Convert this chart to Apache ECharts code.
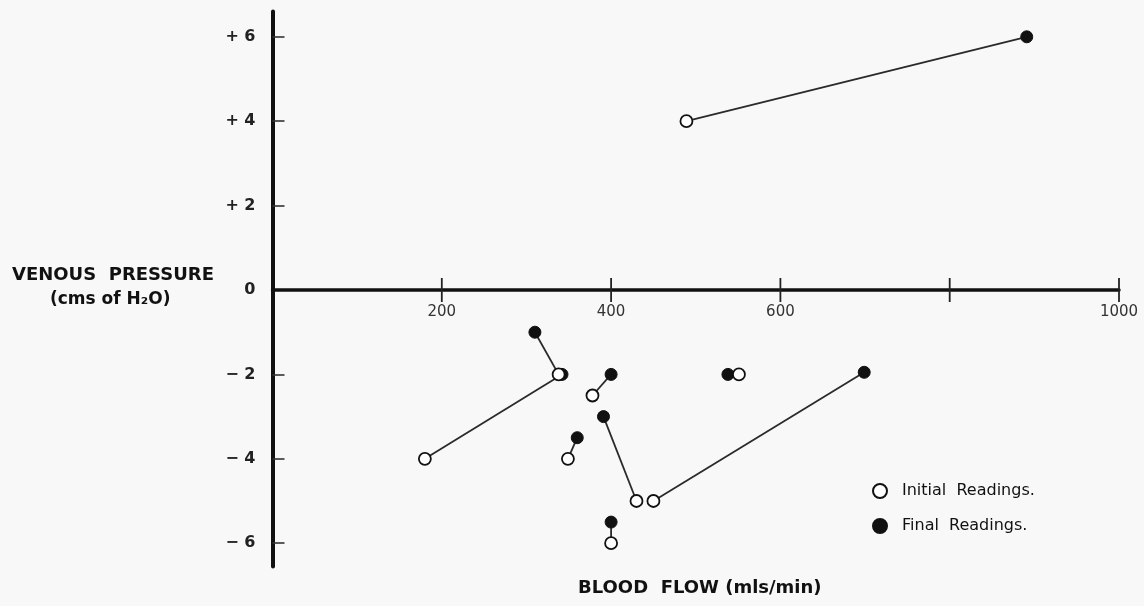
<!DOCTYPE html>
<html>
<head>
<meta charset="utf-8">
<script src="https://cdn.jsdelivr.net/npm/echarts@6/dist/echarts.min.js"></script>
<style>
  html, body { margin: 0; padding: 0; background: #f8f8f8; }
  #chart { width: 1144px; height: 606px; }
</style>
</head>
<body>
<div id="chart"></div>
<script>
  // readings per subject, paired by index (initial -> final)
  var initialFlow = [489, 180, 338, 378, 349, 430, 450, 400, 551];
  var initialPressure = [4, -4, -2, -2.5, -4, -5, -5, -6, -2];
  var finalFlow = [891, 342, 310, 400, 360, 391, 699, 400, 538];
  var finalPressure = [6, -2, -1, -2, -3.5, -3, -1.95, -5.5, -2];

  var flowTicks = [200, 400, 600, 800, 1000];
  var flowLabels = [200, 400, 600, 1000]; // 800 is blanked out on the original
  var pressureTicks = [-6, -4, -2, 2, 4, 6];
  var pressureLabels = [-6, -4, -2, 0, 2, 4, 6];

  var font = 'DejaVu Sans';
  var chart = echarts.init(document.getElementById('chart'));

  var gridTop = 11.5, gridBottom = 39.6, yMin = -6.55, yMax = 6.6;
  var plotH = 606 - gridTop - gridBottom;
  // lift the whole flow axis (line + labels) up to pressure 0
  var zeroOffset = -plotH * (0 - yMin) / (yMax - yMin);

  var initialPts = initialFlow.map(function (x, i) { return [x, initialPressure[i]]; });
  var finalPts = finalFlow.map(function (x, i) { return [x, finalPressure[i]]; });

  // one short line per subject joining its two readings
  var pairLines = initialPts.map(function (p, i) {
    return {
      type: 'line',
      data: [p, finalPts[i]],
      showSymbol: false,
      symbol: 'none',
      silent: true,
      z: 1,
      lineStyle: { color: '#2a2a2a', width: 1.8 }
    };
  });

  // flow ticks cross the axis line on both sides, so draw them as thin bars at y = 0
  var crossTicks = {
    type: 'scatter',
    data: flowTicks.map(function (v) { return [v, 0]; }),
    symbol: 'rect', symbolSize: [1.8, 24],
    silent: true, z: 2,
    itemStyle: { color: '#222', opacity: 1 }
  };

  chart.setOption({
    backgroundColor: '#f8f8f8',
    animation: false,
    grid: { left: 272.5, right: 25, top: gridTop, bottom: gridBottom },
    xAxis: {
      type: 'value', min: 0, max: 1000,
      position: 'bottom', offset: zeroOffset,
      axisLine: { onZero: false, lineStyle: { color: '#111', width: 3.5 } },
      axisTick: { show: false },
      axisLabel: {
        customValues: flowLabels, margin: 15,
        color: '#333', fontSize: 15, fontFamily: font,
        formatter: function (v) { return String(v); }
      },
      splitLine: { show: false }
    },
    yAxis: {
      type: 'value', min: yMin, max: yMax,
      axisLine: { show: true, onZero: false, lineStyle: { color: '#111', width: 4 } },
      axisTick: { show: true, inside: true, length: 12, customValues: pressureTicks, lineStyle: { color: '#333', width: 1.6 } },
      axisLabel: {
        customValues: pressureLabels, margin: 17,
        color: '#222', fontSize: 16, fontWeight: 'bold', fontFamily: font,
        formatter: function (v) {
          if (v > 0) return '+ ' + v;
          if (v < 0) return '\u2212 ' + (-v);
          return '0';
        }
      },
      splitLine: { show: false }
    },
    legend: {
      orient: 'vertical',
      left: 867, top: 478,
      itemWidth: 14, itemHeight: 14, itemGap: 19,
      textStyle: { color: '#111', fontSize: 16, fontFamily: font, padding: [0, 0, 0, 10] },
      data: ['Initial  Readings.', 'Final  Readings.']
    },
    graphic: [
      {
        type: 'text', left: 12, top: 266,
        style: { text: 'VENOUS  PRESSURE', font: 'bold 18px "DejaVu Sans"', fill: '#111' }
      },
      {
        type: 'text', left: 50, top: 291,
        style: { text: '(cms of H\u2082O)', font: 'bold 17px "DejaVu Sans"', fill: '#111' }
      },
      {
        type: 'text', left: 578, top: 579,
        style: { text: 'BLOOD  FLOW (mls/min)', font: 'bold 18px "DejaVu Sans"', fill: '#111' }
      }
    ],
    series: pairLines.concat([
      crossTicks,
      {
        name: 'Final  Readings.',
        type: 'scatter',
        data: finalPts,
        symbol: 'circle', symbolSize: 12, z: 3,
        itemStyle: { color: '#111', borderColor: '#111', borderWidth: 1, opacity: 1 }
      },
      {
        name: 'Initial  Readings.',
        type: 'scatter',
        data: initialPts,
        symbol: 'circle', symbolSize: 12, z: 4,
        itemStyle: { color: '#fff', borderColor: '#111', borderWidth: 1.8, opacity: 1 }
      }
    ])
  });
</script>
</body>
</html>
